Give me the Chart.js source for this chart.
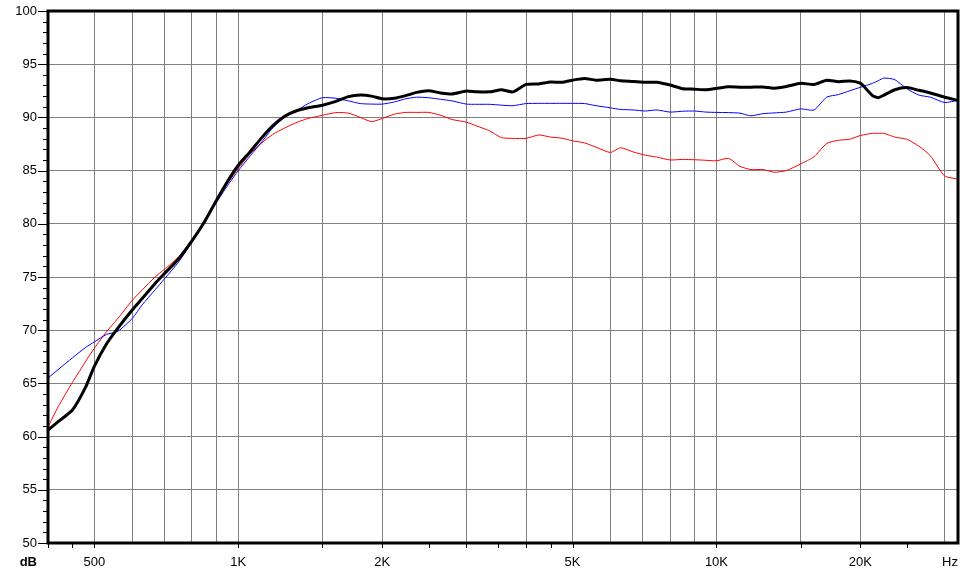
<!DOCTYPE html>
<html>
<head>
<meta charset="utf-8">
<script src="https://cdn.jsdelivr.net/npm/chart.js@4"></script>
<style>
  html, body { margin: 0; padding: 0; background: #ffffff; }
  #wrap { width: 963px; height: 572px; position: relative; }
</style>
</head>
<body>
<div id="wrap"><canvas id="c"></canvas></div>
<script>
// ---- data ----
const freqs = [400,420,450,480,500,530,560,600,630,670,700,750,800,850,900,950,
  1000,1060,1120,1180,1250,1320,1400,1500,1600,1700,1800,1900,2000,2120,2240,2360,
  2500,2650,2800,3000,3150,3350,3550,3750,4000,4250,4500,4750,5000,5300,5600,6000,
  6300,6700,7100,7500,8000,8500,9000,9500,10000,10600,11200,11800,12500,13200,14000,
  15000,16000,17000,18000,19000,20000,21200,21800,22400,23600,25000,26500,28000,30000,32000];

const blackSeries = [60.6,61.4,62.5,64.7,66.6,68.7,70.2,71.9,73.0,74.4,75.3,76.7,78.4,80.2,82.2,84.0,
  85.5,86.8,88.1,89.2,90.1,90.6,90.9,91.15,91.5,91.95,92.1,92.0,91.75,91.8,92.05,92.35,
  92.5,92.3,92.2,92.48,92.4,92.4,92.6,92.4,93.1,93.15,93.33,93.3,93.5,93.65,93.5,93.58,
  93.45,93.38,93.3,93.3,93.04,92.7,92.65,92.6,92.73,92.88,92.84,92.84,92.86,92.75,92.9,
  93.2,93.1,93.5,93.35,93.43,93.2,92.05,91.85,92.1,92.6,92.8,92.55,92.3,91.9,91.6];

const blueSeries = [65.5,66.3,67.4,68.4,68.9,69.6,69.9,71.1,72.4,73.8,74.8,76.4,78.3,80.2,82.0,83.6,
  85.0,86.4,87.7,89.0,90.0,90.6,91.3,91.85,91.8,91.55,91.3,91.25,91.25,91.45,91.75,91.9,
  91.85,91.7,91.55,91.25,91.23,91.23,91.15,91.1,91.3,91.32,91.32,91.32,91.32,91.3,91.1,90.9,
  90.75,90.7,90.6,90.7,90.5,90.58,90.6,90.5,90.47,90.45,90.4,90.15,90.35,90.42,90.5,
  90.8,90.7,91.9,92.15,92.5,92.83,93.2,93.45,93.7,93.55,92.7,92.1,91.9,91.4,91.6];

const redSeries = [60.9,62.8,65.1,67.1,68.3,69.85,71.1,72.8,73.8,75.0,75.7,76.9,78.5,80.3,82.2,83.8,
  85.2,86.6,87.6,88.4,89.0,89.5,89.9,90.2,90.45,90.4,90.0,89.6,89.9,90.3,90.47,90.47,
  90.47,90.2,89.8,89.55,89.2,88.75,88.1,88.03,88.03,88.35,88.15,88.05,87.8,87.6,87.2,86.7,
  87.15,86.75,86.45,86.27,86.0,86.05,86.02,85.97,85.92,86.15,85.4,85.1,85.1,84.85,85.0,
  85.63,86.3,87.55,87.85,87.95,88.3,88.5,88.5,88.5,88.15,87.95,87.3,86.4,84.5,84.2];

const yTicks = [50,55,60,65,70,75,80,85,90,95,100];
const xGridFreqs = [500,600,700,800,900,1000,1500,2000,3000,4000,5000,6000,7000,8000,9000,10000,15000,20000,30000];
const xTickMarks = [400,450,500,1000,1500,2000,2500,3000,3500,4000,4500,5000,10000,15000,20000,25000];
const xLabelFreqs = [500,1000,2000,5000,10000,20000];
const xLabelTexts = ['500','1K','2K','5K','10K','20K'];
const xUnit = 'Hz';
const yUnit = 'dB';

const toPoints = (vals) => freqs.map((f, i) => ({ x: f, y: vals[i] }));

const FONT = "13px 'Liberation Sans', Arial, sans-serif";
const FONT_BOLD = "bold 13px 'Liberation Sans', Arial, sans-serif";

const framePlugin = {
  id: 'frame',
  afterDatasetsDraw(chart) {
    const ctx = chart.ctx;
    const a = chart.chartArea;
    const xs = chart.scales.x, ys = chart.scales.y;
    ctx.save();
    // y minor/major ticks
    ctx.strokeStyle = '#000';
    ctx.lineWidth = 1;
    ctx.beginPath();
    for (let v = 50; v <= 100; v++) {
      const y = Math.round(ys.getPixelForValue(v)) + 0.5;
      const len = (v % 5 === 0) ? 10 : 5;
      ctx.moveTo(a.left - len, y);
      ctx.lineTo(a.left, y);
    }
    // x ticks below axis
    xTickMarks.forEach(f => {
      const x = Math.round(xs.getPixelForValue(f)) + 0.5;
      ctx.moveTo(x, a.bottom);
      ctx.lineTo(x, a.bottom + 5);
    });
    ctx.stroke();
    // thick frame
    ctx.lineWidth = 3;
    ctx.strokeRect(a.left, a.top, a.right - a.left, a.bottom - a.top);
    // labels
    ctx.fillStyle = '#000';
    ctx.font = FONT;
    ctx.textAlign = 'right';
    ctx.textBaseline = 'middle';
    yTicks.forEach(v => {
      ctx.fillText(String(v), a.left - 11, ys.getPixelForValue(v));
    });
    ctx.textAlign = 'center';
    const ly = a.bottom + 19;
    xLabelFreqs.forEach((f, i) => {
      ctx.fillText(xLabelTexts[i], xs.getPixelForValue(f), ly);
    });
    ctx.fillText(xUnit, a.right - 8, ly);
    ctx.font = FONT_BOLD;
    ctx.textAlign = 'right';
    ctx.fillText(yUnit, a.left - 11, ly);
    ctx.restore();
  }
};

new Chart(document.getElementById('c'), {
  type: 'line',
  data: {
    datasets: [
      { data: toPoints(blackSeries), borderColor: '#000000', borderWidth: 3, pointRadius: 0, tension: 0.2, fill: false },
      { data: toPoints(blueSeries), borderColor: '#0000ff', borderWidth: 1, pointRadius: 0, tension: 0.2, fill: false },
      { data: toPoints(redSeries), borderColor: '#ff0000', borderWidth: 1, pointRadius: 0, tension: 0.2, fill: false }
    ]
  },
  options: {
    responsive: true,
    maintainAspectRatio: false,
    animation: false,
    events: [],
    layout: { padding: { top: 11, right: 5, left: 0, bottom: 0 } },
    plugins: { legend: { display: false }, tooltip: { enabled: false } },
    scales: {
      x: {
        type: 'logarithmic',
        min: 400,
        max: 32000,
        afterBuildTicks: (s) => { s.ticks = xGridFreqs.map(v => ({ value: v })); },
        afterFit: (s) => { s.height = 29; },
        ticks: { display: false },
        grid: { color: '#808080', lineWidth: 1, drawTicks: false },
        border: { display: false }
      },
      y: {
        type: 'linear',
        min: 50,
        max: 100,
        afterBuildTicks: (s) => { s.ticks = yTicks.map(v => ({ value: v })); },
        afterFit: (s) => { s.width = 48; },
        ticks: { display: false },
        grid: { color: '#808080', lineWidth: 1, drawTicks: false },
        border: { display: false }
      }
    }
  },
  plugins: [framePlugin]
});
</script>
</body>
</html>
